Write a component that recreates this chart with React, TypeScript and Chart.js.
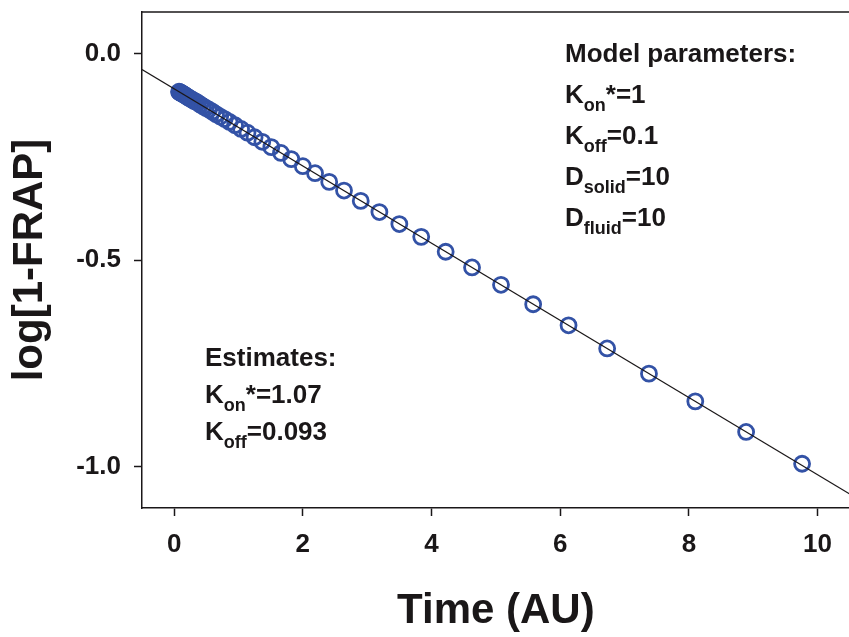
import React, { useEffect, useRef } from 'react';
import { Chart, registerables } from 'chart.js';

Chart.register(...registerables);

// ---- Data ----
const timeValues = [
  0.076, 0.083, 0.091, 0.1, 0.11, 0.121, 0.133, 0.146, 0.16, 0.176, 0.193, 0.212, 0.233,
  0.256, 0.281, 0.308, 0.339, 0.372, 0.408, 0.448, 0.492, 0.54, 0.593, 0.651, 0.715, 0.785,
  0.861, 0.946, 1.04, 1.14, 1.25, 1.37, 1.51, 1.66, 1.82, 2.0, 2.19, 2.41, 2.64, 2.9, 3.19,
  3.5, 3.84, 4.22, 4.63, 5.08, 5.58, 6.13, 6.73, 7.38, 8.1, 8.89, 9.76,
];
const logFrapValues = [
  -0.093, -0.094, -0.094, -0.095, -0.096, -0.097, -0.098, -0.099, -0.101, -0.102, -0.104,
  -0.106, -0.108, -0.11, -0.112, -0.115, -0.117, -0.12, -0.124, -0.128, -0.132, -0.136,
  -0.141, -0.147, -0.153, -0.159, -0.166, -0.174, -0.183, -0.192, -0.203, -0.214, -0.227,
  -0.241, -0.256, -0.273, -0.29, -0.311, -0.332, -0.357, -0.384, -0.413, -0.444, -0.48,
  -0.518, -0.56, -0.607, -0.658, -0.714, -0.775, -0.842, -0.916, -0.993,
];
const fitLineX = [-0.5, 10.5];
const fitLineY = [-0.039, -1.066];

const xTickValues = [0, 2, 4, 6, 8, 10];
const yTickValues = [0, -0.5, -1.0];
const yTickLabels = ['0.0', '-0.5', '-1.0'];

const xAxisTitle = 'Time (AU)';
const yAxisTitle = 'log[1-FRAP]';

// rich text: [text, 'n' | 'sub']
const modelParamLines: [string, string][][] = [
  [['Model parameters:', 'n']],
  [['K', 'n'], ['on', 'sub'], ['*=1', 'n']],
  [['K', 'n'], ['off', 'sub'], ['=0.1', 'n']],
  [['D', 'n'], ['solid', 'sub'], ['=10', 'n']],
  [['D', 'n'], ['fluid', 'sub'], ['=10', 'n']],
];
const estimateLines: [string, string][][] = [
  [['Estimates:', 'n']],
  [['K', 'n'], ['on', 'sub'], ['*=1.07', 'n']],
  [['K', 'n'], ['off', 'sub'], ['=0.093', 'n']],
];

// ---- Styles ----
const FONT = '"Liberation Sans", Arial, Helvetica, sans-serif';
const INK = '#1a1718';
const POINT_COLOR = '#3352a6';

function drawRich(
  ctx: CanvasRenderingContext2D,
  lines: [string, string][][],
  x: number,
  y0: number,
  dy: number
) {
  ctx.save();
  ctx.fillStyle = INK;
  ctx.textAlign = 'left';
  ctx.textBaseline = 'alphabetic';
  lines.forEach((segs, i) => {
    let cx = x;
    const by = y0 + i * dy;
    segs.forEach(([t, kind]) => {
      if (kind === 'sub') {
        ctx.font = `bold 18px ${FONT}`;
        ctx.fillText(t, cx, by + 8);
      } else {
        ctx.font = `bold 26px ${FONT}`;
        ctx.fillText(t, cx, by);
      }
      cx += ctx.measureText(t).width;
    });
  });
  ctx.restore();
}

const annotationPlugin = {
  id: 'frapAnnotations',
  afterDraw(chart: any) {
    const { ctx, chartArea } = chart;
    ctx.save();
    ctx.strokeStyle = INK;
    ctx.lineWidth = 1.5;
    ctx.beginPath();
    ctx.moveTo(chartArea.left, chartArea.top);
    ctx.lineTo(chartArea.right, chartArea.top);
    ctx.stroke();
    ctx.restore();
    drawRich(ctx, modelParamLines, 565, 62, 41);
    drawRich(ctx, estimateLines, 205, 366, 37);
  },
};

export default function App() {
  const canvasRef = useRef<HTMLCanvasElement | null>(null);

  useEffect(() => {
    if (!canvasRef.current) return;
    const points = timeValues.map((t, i) => ({ x: t, y: logFrapValues[i] }));
    const fit = fitLineX.map((t, i) => ({ x: t, y: fitLineY[i] }));
    const tickFont = { family: FONT, size: 26, weight: 'bold' as const };
    const titleFont = { family: FONT, size: 42, weight: 'bold' as const };

    const chart = new Chart(canvasRef.current, {
      type: 'scatter',
      data: {
        datasets: [
          {
            type: 'line',
            label: 'fit',
            data: fit,
            borderColor: INK,
            borderWidth: 1.2,
            pointRadius: 0,
            fill: false,
          } as any,
          {
            label: 'data',
            data: points,
            pointRadius: 7.5,
            pointHoverRadius: 7.5,
            borderWidth: 2.8,
            borderColor: POINT_COLOR,
            backgroundColor: 'rgba(0,0,0,0)',
          },
        ],
      },
      options: {
        animation: false,
        responsive: false,
        devicePixelRatio: 1,
        layout: { padding: { left: 0, top: 12, right: 8, bottom: 0 } },
        plugins: {
          legend: { display: false },
          tooltip: { enabled: false },
        },
        scales: {
          x: {
            type: 'linear',
            min: -0.5,
            max: 10.5,
            afterBuildTicks: (scale: any) => {
              scale.ticks = xTickValues.map((v) => ({ value: v }));
            },
            afterFit: (scale: any) => {
              scale.height = 129;
              scale.paddingLeft = 0;
              scale.paddingRight = 0;
            },
            border: { display: true, color: INK, width: 1.5 },
            grid: {
              display: true,
              drawOnChartArea: false,
              drawTicks: true,
              tickLength: 8,
              tickColor: INK,
              tickWidth: 1.5,
            },
            ticks: {
              font: tickFont,
              color: INK,
              padding: 13,
              maxRotation: 0,
              autoSkip: false,
              callback: (v: any) => String(v),
            },
            title: {
              display: true,
              text: xAxisTitle,
              font: titleFont,
              color: INK,
              padding: { top: 7, bottom: 0 },
            },
          },
          y: {
            type: 'linear',
            min: -1.1,
            max: 0.1,
            afterBuildTicks: (scale: any) => {
              scale.ticks = yTickValues.map((v) => ({ value: v }));
            },
            afterFit: (scale: any) => {
              scale.width = 142;
              scale.paddingTop = 0;
              scale.paddingBottom = 0;
            },
            border: { display: true, color: INK, width: 1.5 },
            grid: {
              display: true,
              drawOnChartArea: false,
              drawTicks: true,
              tickLength: 8,
              tickColor: INK,
              tickWidth: 1.5,
            },
            ticks: {
              font: tickFont,
              color: INK,
              padding: 13,
              autoSkip: false,
              callback: (v: any) => {
                const idx = yTickValues.indexOf(v);
                return idx >= 0 ? yTickLabels[idx] : '';
              },
            },
            title: {
              display: true,
              text: yAxisTitle,
              font: titleFont,
              color: INK,
              padding: { top: 5, bottom: 0 },
            },
          },
        },
      },
      plugins: [annotationPlugin],
    });
    return () => chart.destroy();
  }, []);

  return (
    <div
      style={{
        position: 'fixed',
        left: 0,
        top: 0,
        width: 849,
        height: 637,
        overflow: 'hidden',
        background: '#fff',
      }}
    >
      <canvas ref={canvasRef} width={860} height={637} style={{ width: 860, height: 637, display: 'block' }} />
    </div>
  );
}
